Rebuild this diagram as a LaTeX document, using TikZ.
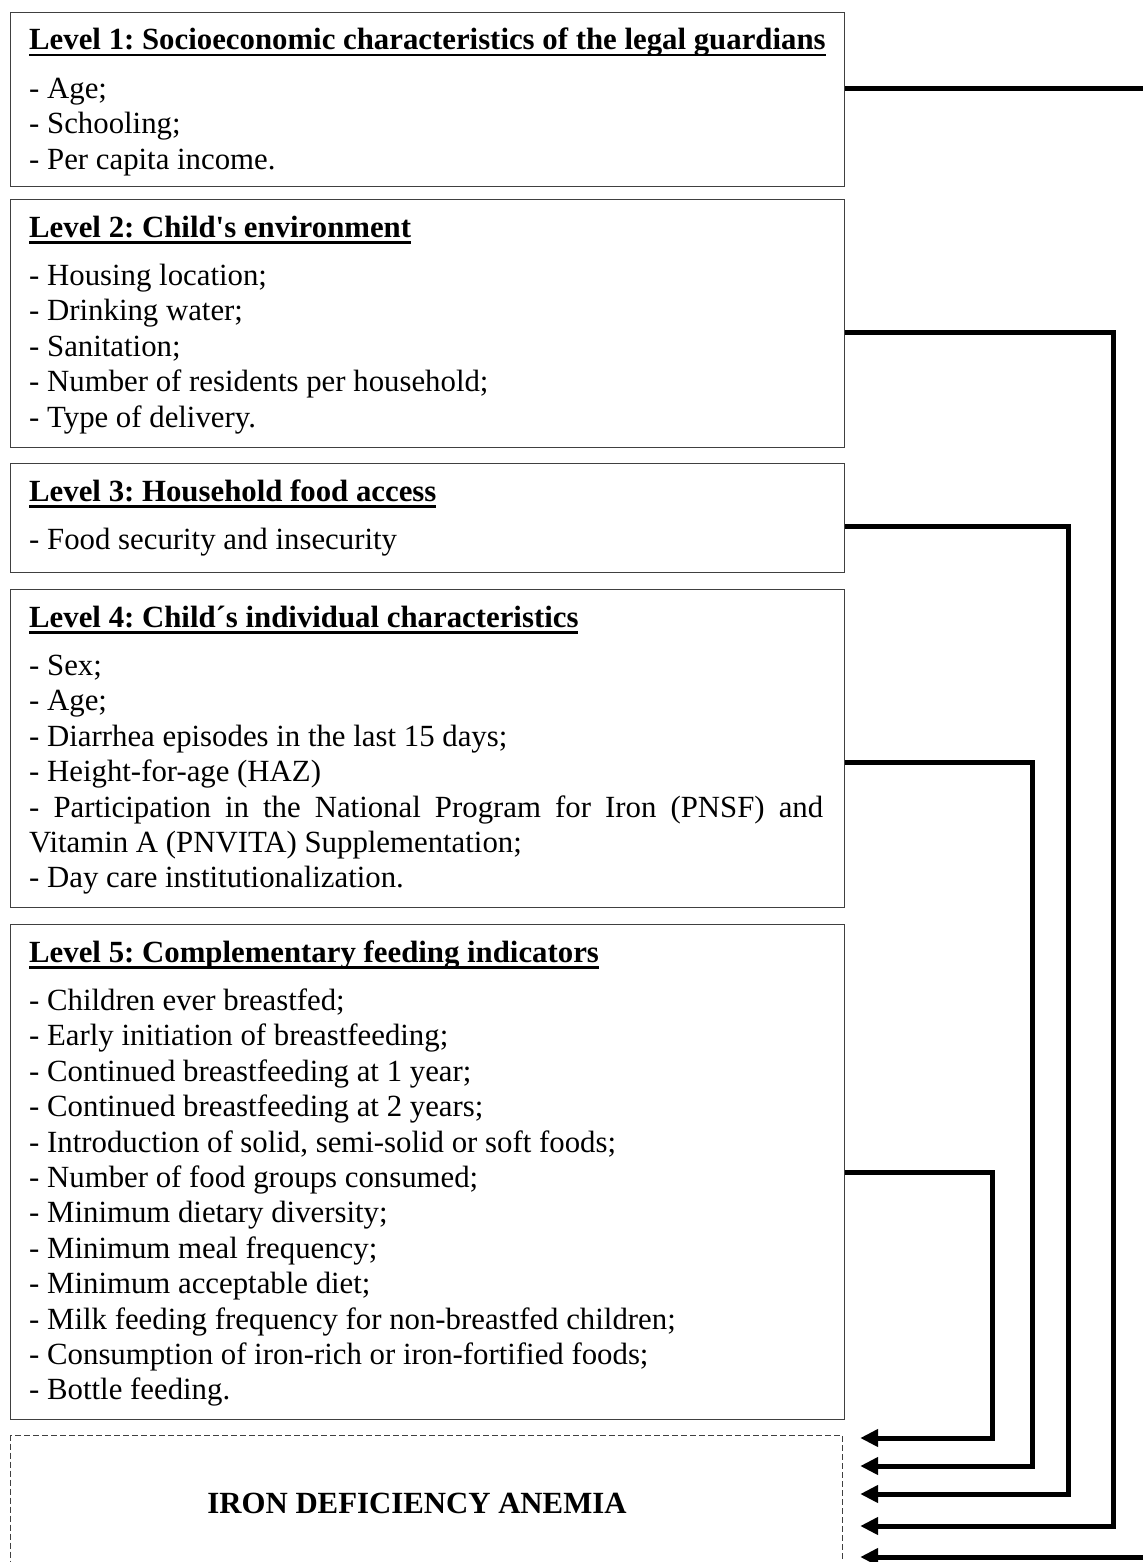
\documentclass[tikz,border=0pt]{standalone}
\usepackage{fontspec}
\newfontfamily\tnr{Liberation Serif}
\usetikzlibrary{arrows.meta}
\frenchspacing
\newsavebox\hdrbox
\newcommand\hdrtxt[1]{\sbox\hdrbox{#1}\rlap{\rule[-6.5pt]{\wd\hdrbox}{2.6pt}}\usebox\hdrbox}
\newcommand\itemlist[4]{\foreach \txt [count=\i] in {#4}{\node[itm] (#1\i) at (#2,{#3+(\i-1)*35.4}) {\txt};}}
\begin{document}
\begin{tikzpicture}[x=1pt,y=-1pt,
  lvl/.style={draw=black!75, line width=1.3pt, inner sep=0pt, minimum width=834pt, anchor=north west},
  itm/.style={anchor=base west, inner sep=0pt, font=\tnr\frenchspacing\fontsize{30.8}{35.4}\selectfont},
  hdr/.style={anchor=base west, inner sep=0pt, font=\tnr\frenchspacing\bfseries\fontsize{30.8}{35.4}\selectfont},
  conn/.style={line width=5pt, draw=black},
  arr/.style={conn, -{Triangle[length=18pt,width=17pt]}, shorten >=17pt}]
\useasboundingbox[fill=white] (0,0) rectangle (1143,1562);
\clip (0,0) rectangle (1143,1562);

% level boxes
\node[lvl, minimum height=174pt] (b1) at (10,12) {};
\node[lvl, minimum height=248pt] (b2) at (10,199) {};
\node[lvl, minimum height=109pt] (b3) at (10,463) {};
\node[lvl, minimum height=318pt] (b4) at (10,589) {};
\node[lvl, minimum height=495pt] (b5) at (10,924) {};
\node[draw=black!75, line width=1.2pt, dash pattern=on 6pt off 3pt, inner sep=0pt,
      minimum width=832pt, minimum height=200pt, anchor=north west] (ida) at (10,1435) {};

% headers
\node[hdr] (h1) at (29,50) {\hdrtxt{Level 1: Socioeconomic characteristics of the legal guardians}};
\node[hdr] (h2) at (29,237) {\hdrtxt{Level 2: Child's environment}};
\node[hdr] (h3) at (29,501) {\hdrtxt{Level 3: Household food access}};
\node[hdr] (h4) at (29,627) {\hdrtxt{Level 4: Child´s individual characteristics}};
\node[hdr] (h5) at (29,962) {\hdrtxt{Level 5: Complementary feeding indicators}};

% items
\itemlist{ia}{29}{98.5}{{- Age;},{- Schooling;},{- Per capita income.}}
\itemlist{ib}{29}{285.5}{{- Housing location;},{- Drinking water;},{- Sanitation;},{- Number of residents per household;},{- Type of delivery.}}
\itemlist{ic}{29}{549.5}{{- Food security and insecurity}}
\itemlist{id}{29}{675.5}{{- Sex;},{- Age;},{- Diarrhea episodes in the last 15 days;},{- Height-for-age (HAZ)},{\makebox[794pt][s]{- Participation in the National Program for Iron (PNSF) and}},{Vitamin A (PNVITA) Supplementation;},{- Day care institutionalization.}}
\itemlist{ie}{29}{1010.5}{{- Children ever breastfed;},{- Early initiation of breastfeeding;},{- Continued breastfeeding at 1 year;},{- Continued breastfeeding at 2 years;},{- Introduction of solid, semi-solid or soft foods;},{- Number of food groups consumed;},{- Minimum dietary diversity;},{- Minimum meal frequency;},{- Minimum acceptable diet;},{- Milk feeding frequency for non-breastfed children;},{- Consumption of iron-rich or iron-fortified foods;},{- Bottle feeding.}}

\node[hdr, anchor=base] (idat) at (417,1513) {IRON DEFICIENCY ANEMIA};

% connectors
\coordinate (r1) at (1143,89);
\coordinate (r6) at (1143,1557);
\draw[conn] (b1.east |- 0,89) -- (r1);
\draw[arr] (b2.east |- 0,332) -- (1113,332) -- (1113,1526) -- (ida.east |- 0,1526);
\draw[arr] (b3.east |- 0,526) -- (1068,526) -- (1068,1494) -- (ida.east |- 0,1494);
\draw[arr] (b4.east |- 0,762) -- (1032,762) -- (1032,1466) -- (ida.east |- 0,1466);
\draw[arr] (b5.east |- 0,1172) -- (992,1172) -- (992,1438) -- (ida.east |- 0,1438);
\draw[arr] (r6) -- (ida.east |- 0,1557);
\end{tikzpicture}
\end{document}
